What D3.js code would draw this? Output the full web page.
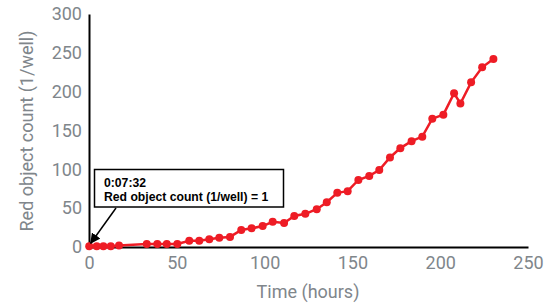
<!DOCTYPE html>
<html><head><meta charset="utf-8">
<script src="https://cdn.jsdelivr.net/npm/d3@7"></script>
<style>body{margin:0;background:#fff}svg{display:block}</style>
</head><body>
<script>
const hours = [0.126, 4.4, 8.2, 12.4, 17.1, 32.9, 38.9, 44.3, 50.3, 57.1, 62.8, 68.5, 74.2, 80.3, 86.7, 92.6, 98.9,
  104.6, 111.1, 116.9, 123.2, 129.7, 135.4, 141.4, 147.3, 153.4, 159.6, 165.3, 171.4, 177.3, 183.7, 189.8, 195.5, 201.8, 207.9, 211.5, 217.6, 223.9, 230.3];
const counts = [1, 1, 1, 1, 2, 4, 4, 4, 4, 8, 8, 10, 12, 13, 22, 24, 27,
  32.5, 31, 40, 42.7, 48.7, 57.6, 69.7, 71.9, 86.3, 91.5, 99.2, 115.3, 127.3, 136.2, 142.1, 165.2, 170.4, 198, 184.8, 212, 231.3, 242];
const xTicks = [0, 50, 100, 150, 200, 250];
const yTicks = [0, 50, 100, 150, 200, 250, 300];
const xTitle = "Time (hours)";
const yTitle = "Red object count (1/well)";
const noteLines = ["0:07:32", "Red object count (1/well) = 1"];

const W = 559, H = 303;
const svg = d3.select("body").append("svg").attr("width", W).attr("height", H);
const x = d3.scaleLinear().domain([0, 250]).range([89, 528]);
const y = d3.scaleLinear().domain([0, 300]).range([247, 14]);
const gray = "#80868b";

const xa = svg.append("g").attr("transform", `translate(0,${y(0)})`)
  .call(d3.axisBottom(x).tickValues(xTicks).tickSize(0).tickPadding(9));
xa.select(".domain").attr("stroke", "#000").attr("stroke-width", 2);
xa.selectAll("text").attr("fill", gray).style("font", "18px Roboto");

const ya = svg.append("g").attr("transform", `translate(${x(0)},0)`)
  .call(d3.axisLeft(y).tickValues(yTicks).tickSize(0).tickPadding(7));
ya.select(".domain").attr("stroke", "#000").attr("stroke-width", 2);
ya.selectAll("text").attr("fill", gray).style("font", "18px Roboto");

svg.append("text").attr("x", 308).attr("y", 298).attr("text-anchor", "middle")
  .attr("fill", gray).style("font", "18px Roboto").text(xTitle);
svg.append("text").attr("transform", "translate(33,131) rotate(-90)").attr("text-anchor", "middle")
  .attr("fill", gray).style("font", "18px Roboto").text(yTitle);

const data = hours.map((h, i) => ({h, c: counts[i]}));
const red = "#ee1c25";
svg.append("path").datum(data)
  .attr("d", d3.line().x(d => x(d.h)).y(d => y(d.c)))
  .attr("fill", "none").attr("stroke", red).attr("stroke-width", 2.5);
svg.selectAll("circle").data(data).join("circle")
  .attr("cx", d => x(d.h)).attr("cy", d => y(d.c)).attr("r", 4).attr("fill", red);

// annotation
svg.append("defs").append("marker").attr("id", "ah").attr("viewBox", "0 0 10 10")
  .attr("refX", 9).attr("refY", 5).attr("markerWidth", 7).attr("markerHeight", 7)
  .attr("orient", "auto").append("path").attr("d", "M0,0L10,5L0,10z").attr("fill", "#000");
svg.append("line").attr("x1", 116).attr("y1", 208).attr("x2", x(hours[0]) + 1.5).attr("y2", y(counts[0]) - 3)
  .attr("stroke", "#000").attr("stroke-width", 1.5).attr("marker-end", "url(#ah)");
svg.append("rect").attr("x", 94.5).attr("y", 169.5).attr("width", 189).attr("height", 37.5)
  .attr("fill", "#fff").attr("stroke", "#000").attr("stroke-width", 1.5);
noteLines.forEach((t, i) => {
  svg.append("text").attr("x", 104).attr("y", 186.5 + i * 14).attr("fill", "#000")
    .style("font", "bold 12.2px 'Liberation Sans', Arial").text(t);
});
</script>
</body></html>
